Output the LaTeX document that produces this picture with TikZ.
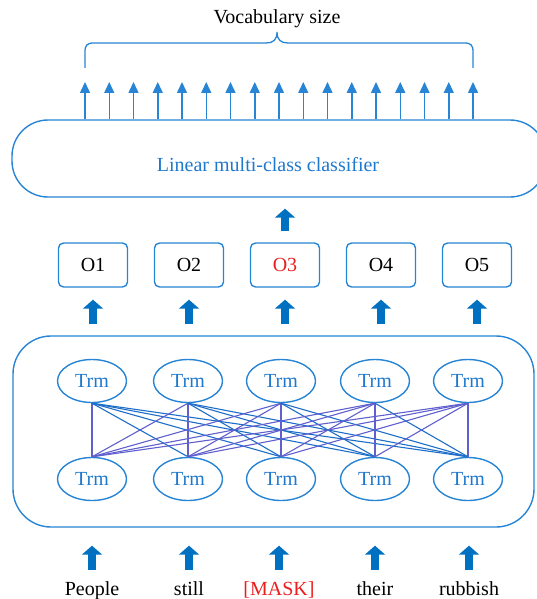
\documentclass[tikz,border=0pt]{standalone}
\usepackage{fontspec}
\setmainfont{Liberation Serif}
\usetikzlibrary{arrows.meta,shapes.geometric}
\definecolor{lineblue}{RGB}{40,132,212}
\definecolor{fatblue}{RGB}{0,112,192}
\definecolor{txtblue}{RGB}{30,120,205}
\definecolor{linkblue}{RGB}{30,110,200}
\definecolor{linkpurple}{RGB}{95,95,205}
\definecolor{maskred}{RGB}{235,30,30}
\begin{document}
\begin{tikzpicture}[x=1pt,y=-1pt,
  txt/.style={font=\fontsize{20}{23}\selectfont},
  rbox/.style={draw=lineblue, line width=1.4pt},
  obox/.style={rbox, rounded corners=5pt, minimum width=69pt, minimum height=44pt, inner sep=0pt, txt},
  trm/.style={ellipse, draw=lineblue, line width=1.4pt, minimum width=69pt, minimum height=43pt, inner sep=0pt, txt, text=txtblue},
  word/.style={txt, anchor=base, text height=14pt, text depth=4pt, inner sep=0pt},
  fat/.style={fatblue, line width=8pt, -{Triangle[width=20pt,length=9pt]}},
  vocarrow/.style={lineblue, line width=1.5pt, -{Triangle[width=10pt,length=11pt]}},
  linkR/.style={linkblue, line width=1.1pt},
  linkL/.style={linkpurple, line width=1.1pt}]
\useasboundingbox (0,0) rectangle (536,599);

% classifier
\node[rbox, rounded corners=36pt, minimum width=534pt, minimum height=77pt, inner sep=0pt] (clf) at (279,158.5) {};
\node[txt, text=txtblue] (clftext) at (268,164.5) {Linear multi-class classifier};

% vocabulary brace and label
\node[txt] (vocab) at (277,18.5) {Vocabulary size};
\draw[lineblue, line width=1.3pt] (85,68) -- (85,52) .. controls (85,45) and (87,43) .. (94,43) -- (266,43)
  .. controls (273,43) and (277,40) .. (277,32) .. controls (277,40) and (281,43) .. (288,43)
  -- (464,43) .. controls (471,43) and (473,45) .. (473,52) -- (473,68);

% vocabulary arrows
\foreach \i in {0,...,16} {
  \coordinate (va\i) at ({85+24.25*\i},82);
  \draw[vocarrow] (clf.north -| va\i) -- (va\i);
}

% output boxes
\foreach \x/\n in {93/1,189/2,381/4,477/5} {
  \node[obox] (o\n) at (\x,265) {O\n};
}
\node[obox, text=maskred] (o3) at (285,265) {O3};

% big transformer box
\node[rbox, rounded corners=38pt, minimum width=521pt, minimum height=191pt, inner sep=0pt] (big) at (273.5,431.5) {};

% Trm nodes
\foreach \x/\n in {92/1,188/2,281/3,375/4,468/5} {
  \node[trm] (t\n) at (\x,381) {Trm};
  \node[trm] (b\n) at (\x,479) {Trm};
}

% full connections
\foreach \i in {1,...,5} {
  \foreach \j in {1,...,5} {
    \ifnum\j>\i
      \draw[linkR] (t\i.south) -- (b\j.north);
    \else
      \draw[linkL] (t\i.south) -- (b\j.north);
    \fi
  }
}

% thick arrows
\draw[fat, shorten <=11pt, shorten >=11pt] (o3.north) -- (clf.south -| o3);
\foreach \n in {1,...,5} {
  \draw[fat, shorten <=11pt, shorten >=12pt] (big.north -| o\n) -- (o\n.south);
}

% words
\node[word] (w1) at (92,595) {People};
\node[word] (w2) at (189,595) {still};
\node[word, text=maskred] (w3) at (279,595) {[MASK]};
\node[word] (w4) at (375,595) {their};
\node[word] (w5) at (469,595) {rubbish};
\foreach \n in {1,...,5} {
  \draw[fat, shorten <=11pt, shorten >=18pt] (w\n.north) -- (big.south -| w\n);
}
\end{tikzpicture}
\end{document}
